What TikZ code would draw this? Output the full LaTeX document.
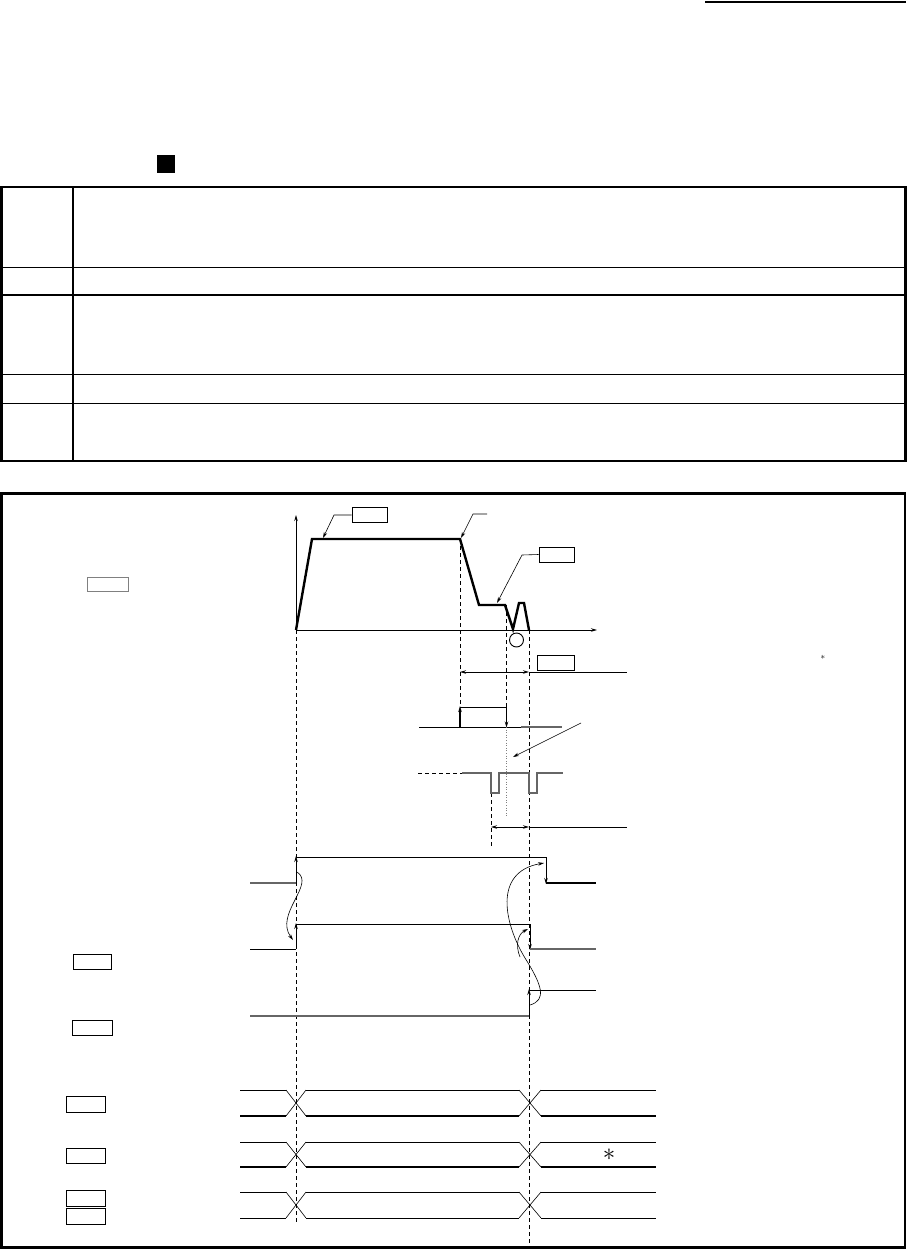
\documentclass[tikz,border=0pt]{standalone}
\usetikzlibrary{arrows.meta}
\begin{document}
\begin{tikzpicture}[x=1pt,y=-1pt,
  lbl/.style={draw,line width=0.9pt,minimum width=35pt,minimum height=15pt,inner sep=0pt},
  lblg/.style={lbl,draw=black!50},
  tip/.style={-{Stealth[length=6pt,width=3.5pt]}},
  dtip/.style={{Stealth[length=6pt,width=3.5pt]}-{Stealth[length=6pt,width=3.5pt]}},
  prof/.style={line width=2.4pt,line join=miter},
  sig/.style={line width=0.9pt},
  thin/.style={line width=0.6pt},
  sgray/.style={line width=1.3pt,draw=black!60},
  thick2/.style={line width=2pt},
  guide/.style={line width=0.8pt,dash pattern=on 4pt off 3pt}
]
\useasboundingbox (0,0) rectangle (908,1252);
% header
\draw[line width=1.5pt] (705,2) -- (906,2);
\fill (157,155) rectangle (175,173);
% table
\draw[line width=2.7pt] (1.5,187) rectangle (905.5,461);
\draw[line width=2pt] (73,187) -- (73,461);
\draw[line width=1.2pt] (1.5,267.5) -- (905.5,267.5);
\draw[line width=2.2pt] (1.5,295) -- (905.5,295);
\draw[line width=1.2pt] (1.5,374.5) -- (905.5,374.5);
\draw[line width=1.2pt] (1.5,403.5) -- (905.5,403.5);
% lower frame
\draw[line width=2.7pt] (1.5,493.5) rectangle (905,1247.5);

% label boxes
\node[lbl] (b1) at (369.5,515) {};
\node[lbl] (b2) at (556.5,554.5) {};
\node[lblg,minimum width=41pt,minimum height=14pt] (b3) at (107.5,584) {};
\node[lbl,minimum width=37pt] (b4) at (555.5,662.5) {};
\node[lbl,minimum width=38pt] (b6) at (92,961.5) {};
\node[lbl,minimum width=40pt] (b7) at (92.5,1027.5) {};
\node[lbl,minimum width=39pt,minimum height=16pt] (b8) at (86,1104) {};
\node[lbl,minimum width=39pt] (b9) at (86,1155.5) {};
\node[lbl,minimum width=39pt,minimum height=16pt] (b10) at (86,1198) {};
\node[lbl,minimum width=39pt,minimum height=16pt] (b11) at (86,1216) {};
\node[circle,draw,line width=0.9pt,minimum size=14pt,inner sep=0pt] (c1) at (516.5,640) {};
\node[inner sep=0pt,font=\fontsize{9}{9}\selectfont] (st1) at (823,657) {$\ast$};
\node[inner sep=0pt,font=\fontsize{24}{24}\selectfont] (st2) at (609,1155) {$\ast$};

% coordinates
\coordinate (O) at (296,630);
\coordinate (ytop) at (296,515);
\coordinate (xend) at (597,630);
\coordinate (pA) at (312,539);
\coordinate (pB) at (460,539);
\coordinate (pC) at (479,605);
\coordinate (pD) at (505,605);
\coordinate (l2) at (487,514);

% axes and profile
\draw[sig,tip] (O) -- (ytop);
\draw[sig,tip] (O) -- (xend);
\draw[prof] (O) -- (pA) -- (pB) -- (pC) -- (pD) -- (513,629) -- (519,603) -- (524,603) -- (529,630);

% leaders
\draw[thin,tip] (b1.west) -- (334,515) -- (323,538);
\draw[thin,tip] (l2) -- (473,514) -- (461,538);
\draw[thin,tip] (b2.west) -- (522,555) -- (497,603);

% dashed guides
\draw[guide] (O) -- (296,1222);
\draw[guide] (pB) -- (460,707);
\draw[guide] (506,605) -- (506,707);
\draw[guide] (529,630) -- (529,1243);
\draw[guide] (491,793) -- (491,848);

% dimension arrows
\draw[sig,dtip] (460,672) -- (529,672);
\draw[sig] (529,672) -- (627,672);
\draw[sig,dtip] (491,827) -- (529,827);
\draw[sig] (529,827) -- (627,827);

% pulse 1
\draw[sig] (419,727) -- (521,727);
\draw[sgray] (521,727) -- (562,727);
\draw[line width=1.6pt,tip] (460,727) -- (460,706);
\draw[sig] (460,707) -- (506.5,707);
\draw[sig,tip] (506.5,707) -- (506.5,727.5);
\draw[line width=0.6pt,draw=black!50,dotted] (506.5,727) -- (506.5,817);
\draw[thin,tip] (581,723) -- (513,757);

% pulse 2
\draw[guide] (418,773) -- (462,773);
\draw[sgray] (462,773) -- (491,773) -- (491,793) -- (499,793) -- (499,773) -- (529,773) -- (529,793) -- (537,793) -- (537,773) -- (563,773);

% signal 1
\draw[sgray] (250,883) -- (296,883);
\draw[sig,tip] (296,883) -- (296,856);
\draw[sig] (296,857) -- (546,857);
\draw[sig,tip] (546,857) -- (546,884);
\draw[thick2] (546,883) -- (596,883);
% signal 2
\draw[sig] (250,949) -- (296,949);
\draw[sig,tip] (296,949) -- (296,923);
\draw[sig] (296,924) -- (530,924);
\draw[sig,tip] (530,924) -- (530,950);
\draw[sgray] (530,949) -- (596,949);
% signal 3
\draw[sgray] (250,1016) -- (529,1016);
\draw[sig,tip] (529,1016) -- (529,989);
\draw[sig] (529,990) -- (596,990);

% curved arrows
\draw[thin,tip] (297,872) .. controls (316,884) and (274,914) .. (293,940);
\draw[thin,tip] (530,1005) .. controls (547,1000) and (542,985) .. (525,958) .. controls (505,925) and (492,872) .. (544,863);
\draw[thin,tip] (520,957) .. controls (515,945) and (518,934) .. (528,929);

% timing rows
\foreach \yt/\yb/\w in {1090/1116/2pt, 1142/1167/2pt, 1192/1218/0.9pt}{
  \draw[sig] (240,\yt) -- (286,\yt);
  \draw[sig] (306,\yt) -- (519,\yt);
  \draw[sig] (541,\yt) -- (656,\yt);
  \draw[line width=\w] (240,\yb) -- (286,\yb);
  \draw[line width=\w] (306,\yb) -- (519,\yb);
  \draw[line width=\w] (541,\yb) -- (656,\yb);
  \draw[thin] (286,\yt) -- (306,\yb);
  \draw[thin] (286,\yb) -- (306,\yt);
  \draw[thin] (519,\yt) -- (541,\yb);
  \draw[thin] (519,\yb) -- (541,\yt);
}
\end{tikzpicture}
\end{document}
